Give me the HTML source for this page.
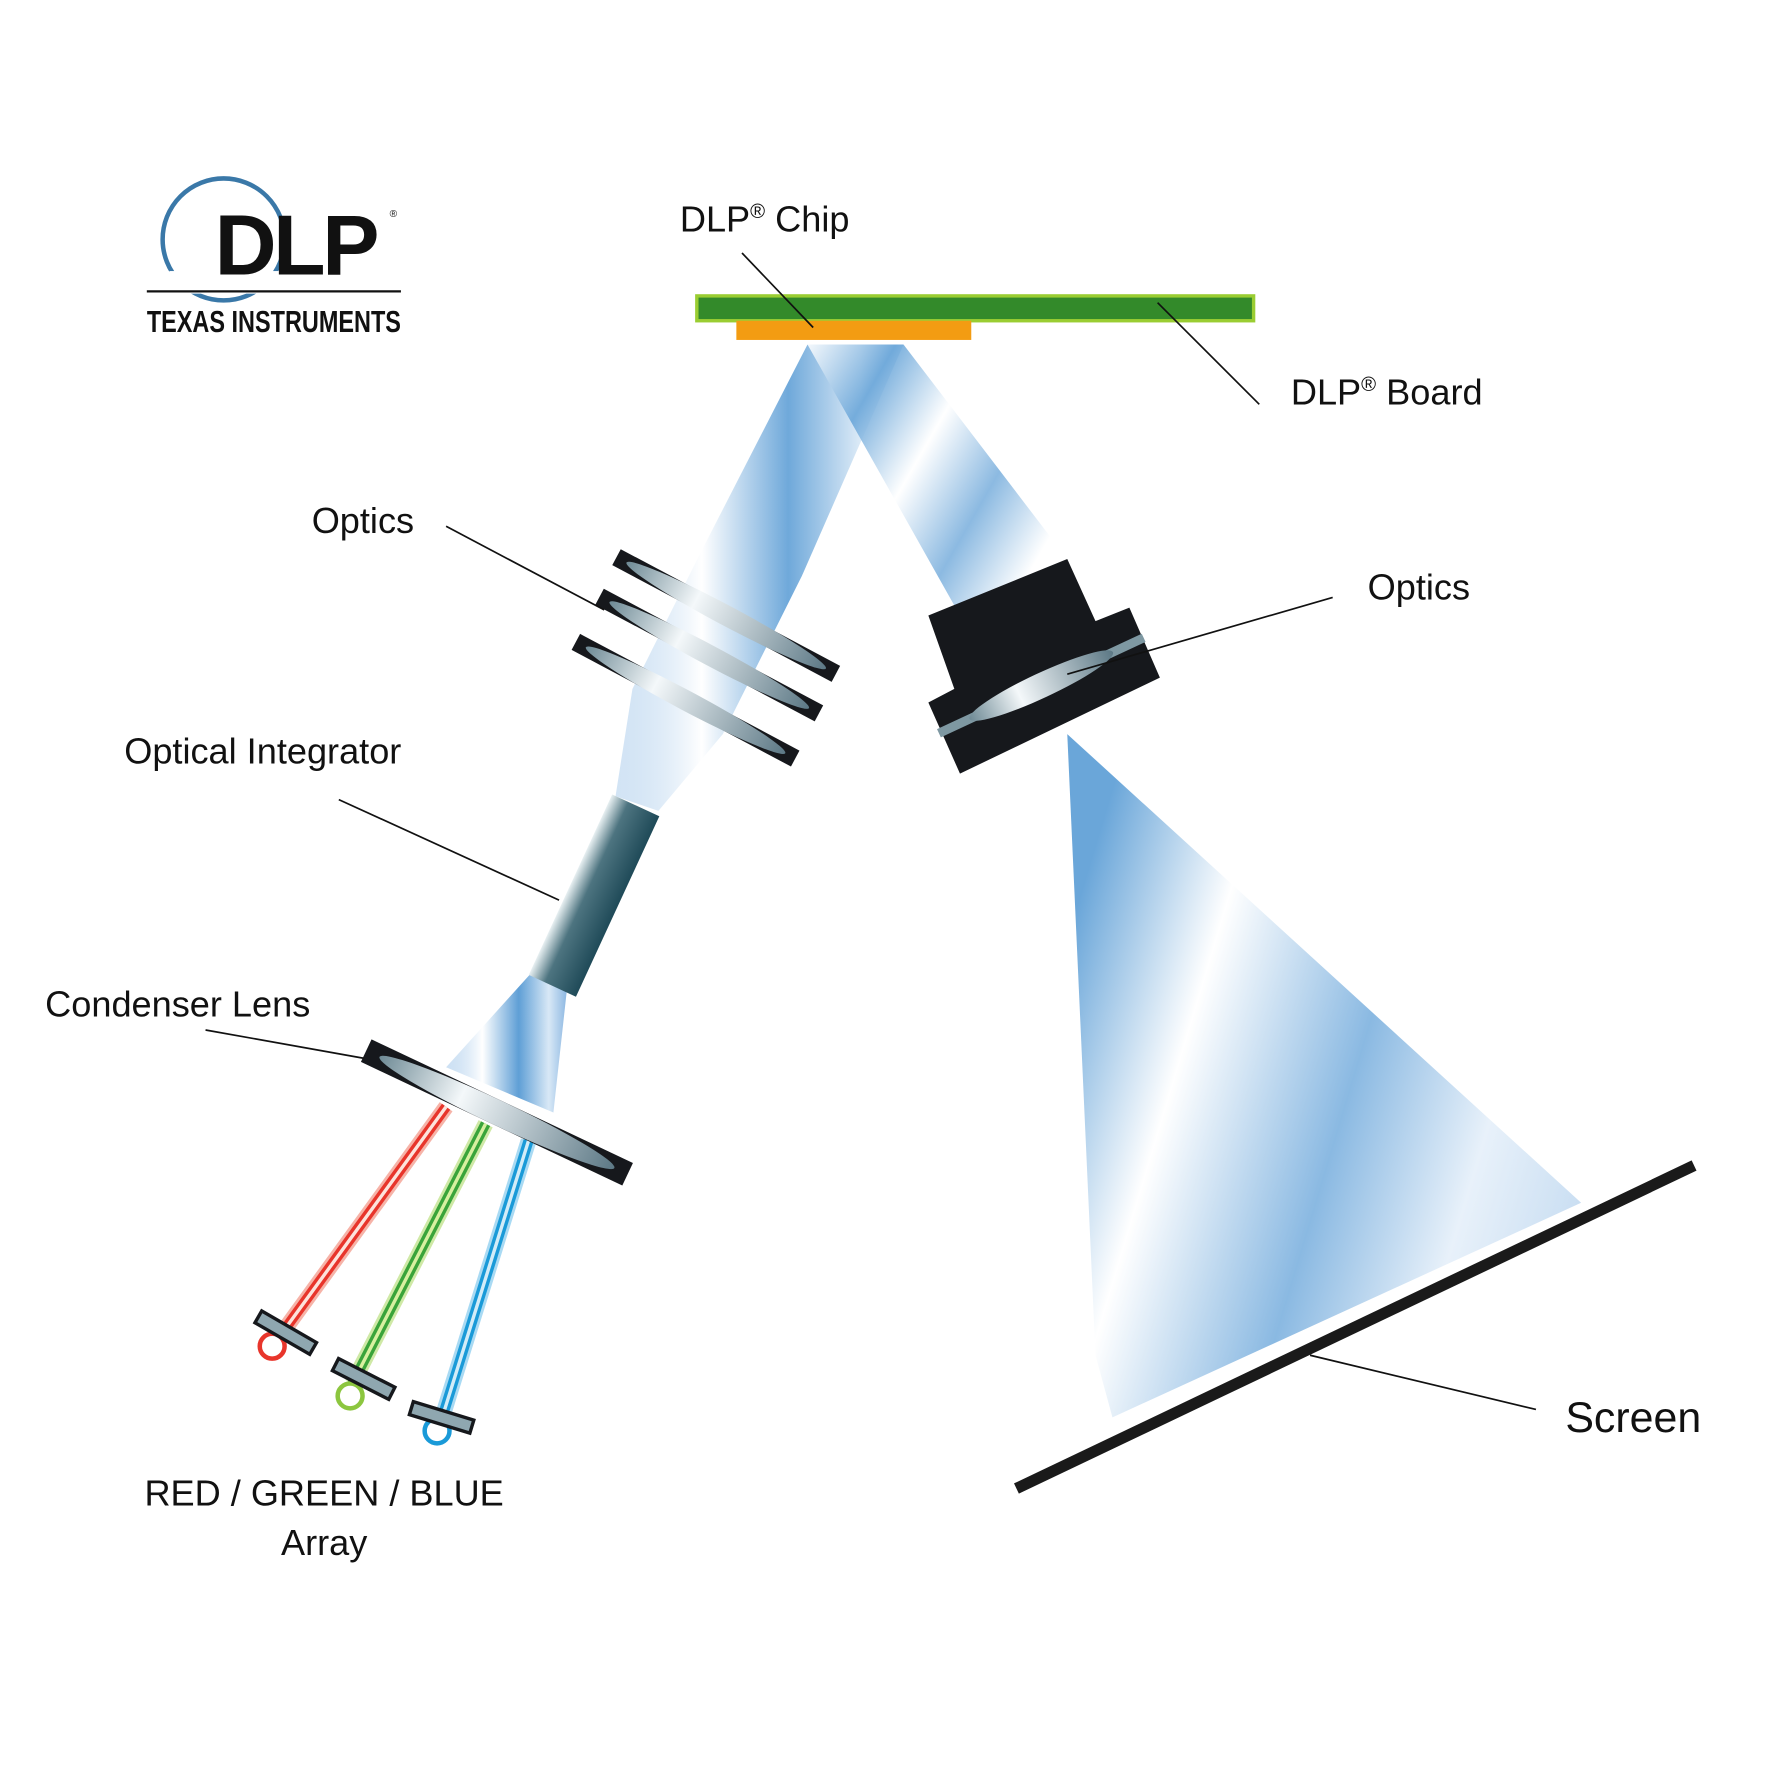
<!DOCTYPE html>
<html><head><meta charset="utf-8"><style>
html,body{margin:0;padding:0;background:#fff}
svg{display:block}
text{font-family:"Liberation Sans",sans-serif;fill:#111}
</style></head><body>
<svg width="1772" height="1772" viewBox="0 0 1569 1569" xmlns="http://www.w3.org/2000/svg">
<defs>
<linearGradient id="beam" x1="0" y1="0" x2="1" y2="0">
<stop offset="0" stop-color="#9cc3e8" stop-opacity="0.5"/>
<stop offset="0.3" stop-color="#ffffff"/>
<stop offset="0.6" stop-color="#5f9fd6"/>
<stop offset="0.85" stop-color="#d8e8f6"/>
<stop offset="1" stop-color="#8db8e2"/>
</linearGradient>
<linearGradient id="beam2" x1="0" y1="0" x2="1" y2="0.6">
<stop offset="0" stop-color="#fff"/>
<stop offset="0.25" stop-color="#6aa6d9"/>
<stop offset="0.5" stop-color="#fff"/>
<stop offset="0.75" stop-color="#7fb2de"/>
<stop offset="1" stop-color="#fff"/>
</linearGradient>
<linearGradient id="cone" x1="0" y1="0.3" x2="1" y2="0.7">
<stop offset="0" stop-color="#6aa6d9"/>
<stop offset="0.25" stop-color="#ffffff"/>
<stop offset="0.55" stop-color="#8ab9e2"/>
<stop offset="0.8" stop-color="#e8f1fa"/>
<stop offset="1" stop-color="#c9def2"/>
</linearGradient>
<linearGradient id="integ" x1="0" y1="0" x2="1" y2="0">
<stop offset="0" stop-color="#e8f0f2"/>
<stop offset="0.35" stop-color="#4d7480"/>
<stop offset="1" stop-color="#1f4a58"/>
</linearGradient>
<linearGradient id="lens" x1="0" y1="0" x2="1" y2="0">
<stop offset="0" stop-color="#6e8a95"/>
<stop offset="0.35" stop-color="#f4f8fa"/>
<stop offset="1" stop-color="#5c7885"/>
</linearGradient>
</defs>

<polygon points="715,305 800,305 710,510 640,650 583,718 545,705 560,610 620,490" fill="url(#beam)" opacity="0.9"/>
<polygon points="715,305 800,305 945,495 850,545" fill="url(#beam2)" opacity="0.9"/>
<polygon points="945,650 1400,1065 985,1255 970,1200" fill="url(#cone)"/>
<polygon points="470,862 502,876 490,985 395,945" fill="url(#beam)"/>

<rect x="617" y="262" width="493" height="22" fill="#338a2a" stroke="#9acd32" stroke-width="3"/>
<rect x="652" y="284" width="208" height="17" fill="#f39c12"/>

<g transform="translate(643,545) rotate(28)">
<rect x="-110" y="-8" width="220" height="16" fill="#16181c"/>
<ellipse cx="0" cy="0" rx="100" ry="9" fill="url(#lens)"/></g>
<g transform="translate(628,580) rotate(28)">
<rect x="-110" y="-8" width="220" height="16" fill="#16181c"/>
<ellipse cx="0" cy="0" rx="100" ry="9" fill="url(#lens)"/></g>
<g transform="translate(607,620) rotate(28)">
<rect x="-110" y="-8" width="220" height="16" fill="#16181c"/>
<ellipse cx="0" cy="0" rx="100" ry="9" fill="url(#lens)"/></g>

<g transform="translate(526,793) rotate(24.8)">
<rect x="-23" y="-88" width="46" height="176" fill="url(#integ)"/></g>

<line x1="395" y1="980" x2="250" y2="1180" stroke="#f6b3a8" stroke-width="14"/>
<line x1="395" y1="980" x2="250" y2="1180" stroke="#e8352b" stroke-width="9"/>
<line x1="395" y1="980" x2="250" y2="1180" stroke="#fde3dc" stroke-width="3"/>
<line x1="430" y1="995" x2="312" y2="1225" stroke="#cfe9a6" stroke-width="14"/>
<line x1="430" y1="995" x2="312" y2="1225" stroke="#3aa43a" stroke-width="9"/>
<line x1="430" y1="995" x2="312" y2="1225" stroke="#d8f0a0" stroke-width="3"/>
<line x1="468" y1="1010" x2="390" y2="1260" stroke="#a9daf3" stroke-width="14"/>
<line x1="468" y1="1010" x2="390" y2="1260" stroke="#1a9ad8" stroke-width="9"/>
<line x1="468" y1="1010" x2="390" y2="1260" stroke="#d2ecf8" stroke-width="3"/>

<g transform="translate(440,985) rotate(25.3)">
<rect x="-128" y="-11" width="256" height="22" fill="#16181c"/>
<ellipse cx="0" cy="0" rx="115" ry="11" fill="url(#lens)"/></g>

<circle cx="241" cy="1192" r="11" fill="#fff" stroke="#e8352b" stroke-width="4"/>
<circle cx="310" cy="1236" r="11" fill="#fff" stroke="#8cc63f" stroke-width="4"/>
<circle cx="387" cy="1267" r="11" fill="#fff" stroke="#1a9ad8" stroke-width="4"/>
<g transform="translate(253,1180) rotate(30)"><rect x="-28" y="-6" width="56" height="12" fill="#8fa7b0" stroke="#16181c" stroke-width="3"/></g>
<g transform="translate(322,1221) rotate(27)"><rect x="-28" y="-6" width="56" height="12" fill="#8fa7b0" stroke="#16181c" stroke-width="3"/></g>
<g transform="translate(391,1255) rotate(17)"><rect x="-28" y="-6" width="56" height="12" fill="#8fa7b0" stroke="#16181c" stroke-width="3"/></g>

<polygon points="822,545 945,495 970,550 1000,538 1027,600 850,685 822,622 845,610" fill="#16181c"/>
<g transform="translate(922,607) rotate(-25)">
<rect x="-100" y="-4" width="200" height="8" fill="#7e98a2"/>
<ellipse cx="0" cy="0" rx="70" ry="11" fill="url(#lens)"/></g>

<line x1="900" y1="1318" x2="1500" y2="1032" stroke="#1a1a1a" stroke-width="10"/>

<g stroke="#111" stroke-width="1.5">
<line x1="657" y1="224" x2="720" y2="290"/>
<line x1="1025" y1="268" x2="1115" y2="358"/>
<line x1="395" y1="466" x2="535" y2="540"/>
<line x1="1180" y1="529" x2="945" y2="597"/>
<line x1="300" y1="708" x2="495" y2="797"/>
<line x1="182" y1="912" x2="322" y2="937"/>
<line x1="1360" y1="1248" x2="1160" y2="1200"/>
</g>

<g font-size="32">
<text x="602" y="205">DLP<tspan font-size="18" dy="-12">®</tspan><tspan dy="12"> Chip</tspan></text>
<text x="1143" y="358">DLP<tspan font-size="18" dy="-12">®</tspan><tspan dy="12"> Board</tspan></text>
<text x="276" y="472">Optics</text>
<text x="1211" y="531">Optics</text>
<text x="110" y="676">Optical Integrator</text>
<text x="40" y="900">Condenser Lens</text>
<text x="287" y="1333" text-anchor="middle">RED / GREEN / BLUE</text>
<text x="287" y="1377" text-anchor="middle">Array</text>
</g>
<text x="1386" y="1268" font-size="38">Screen</text>

<circle cx="198" cy="212" r="54" fill="none" stroke="#3a78a8" stroke-width="4"/>
<rect x="150" y="240" width="100" height="20" fill="#fff"/>
<text x="190" y="243" font-size="76" font-weight="bold" style="letter-spacing:-3px">DLP</text>
<text x="345" y="192" font-size="9">®</text>
<line x1="130" y1="258" x2="355" y2="258" stroke="#111" stroke-width="2"/>
<text x="130" y="294" font-size="27" font-weight="bold" textLength="225" lengthAdjust="spacingAndGlyphs">TEXAS INSTRUMENTS</text>
</svg>
</body></html>
